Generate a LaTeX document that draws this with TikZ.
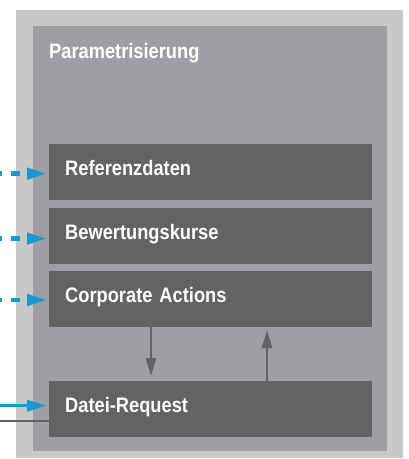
\documentclass[tikz,border=0pt]{standalone}
\usepackage{fontspec}
\setmainfont{Liberation Sans}[FakeStretch=0.87,WordSpace=0.75]
\usetikzlibrary{positioning,arrows.meta}

\definecolor{outergray}{HTML}{C8C9C6}
\definecolor{innergray}{HTML}{9E9FA3}
\definecolor{boxgray}{HTML}{636365}
\definecolor{flowblue}{HTML}{1B98D0}

\tikzset{
  labelfont/.style={font=\fontsize{21}{24}\selectfont\bfseries},
  modbox/.style={labelfont,fill=boxgray,text=white,minimum width=323pt,minimum height=56pt,
    text width=291pt,inner xsep=16pt,inner ysep=0pt,align=left,text height=15pt,text depth=8pt},
  dasharrow/.style={flowblue,line width=4.5pt,dash pattern=on 9pt off 9pt,dash phase=7pt,
    -{Triangle[length=20pt,width=11pt]},shorten >=2pt},
  bluearrow/.style={flowblue,line width=3.5pt,-{Triangle[length=20pt,width=11pt]},shorten >=2pt},
  grayarrow/.style={boxgray,line width=2.7pt,-{Triangle[length=18pt,width=10pt]}}
}

\begin{document}
\begin{tikzpicture}[x=1pt,y=-1pt]
\useasboundingbox (0,0) rectangle (409,459);
\coordinate (origin) at (0,0);
% frames
\fill[outergray] (16,10) rectangle (403,458);
\fill[innergray] (33,26) rectangle (387,451);
\node[labelfont,text=white,anchor=base west,inner sep=0pt] (param) at (49,58.5) {Parametrisierung};
% modules
\node[modbox,anchor=north west] (ref) at (49,144) {Referenzdaten};
\node[modbox,below=7pt of ref] (kurs) {Bewertungskurse};
\node[modbox,below=7pt of kurs] (ca) {Corporate Actions};
\node[modbox,below=54pt of ca] (req) {Datei-Request};
% incoming data (dashed)
\foreach \n/\dy in {ref/-1.5,kurs/-3,ca/-1}{
  \coordinate (in-\n) at ([yshift=\dy pt]\n.west -| origin);
  \draw[dasharrow] (in-\n) -- (in-\n -| \n.west);
}
% request in and out
\coordinate (in-req) at ([yshift=3.7pt]req.west -| origin);
\coordinate (out-req) at ([yshift=-11.3pt]req.west -| origin);
\draw[bluearrow] (in-req) -- (in-req -| req.west);
\draw[boxgray,line width=2pt] (out-req) -- (out-req -| req.west);
% between corporate actions and request
\draw[grayarrow,shorten >=5pt] ([xshift=102pt]ca.south west) -- ([xshift=102pt]req.north west);
\draw[grayarrow,shorten >=3pt] ([xshift=218pt]req.north west) -- ([xshift=218pt]ca.south west);
\end{tikzpicture}
\end{document}
